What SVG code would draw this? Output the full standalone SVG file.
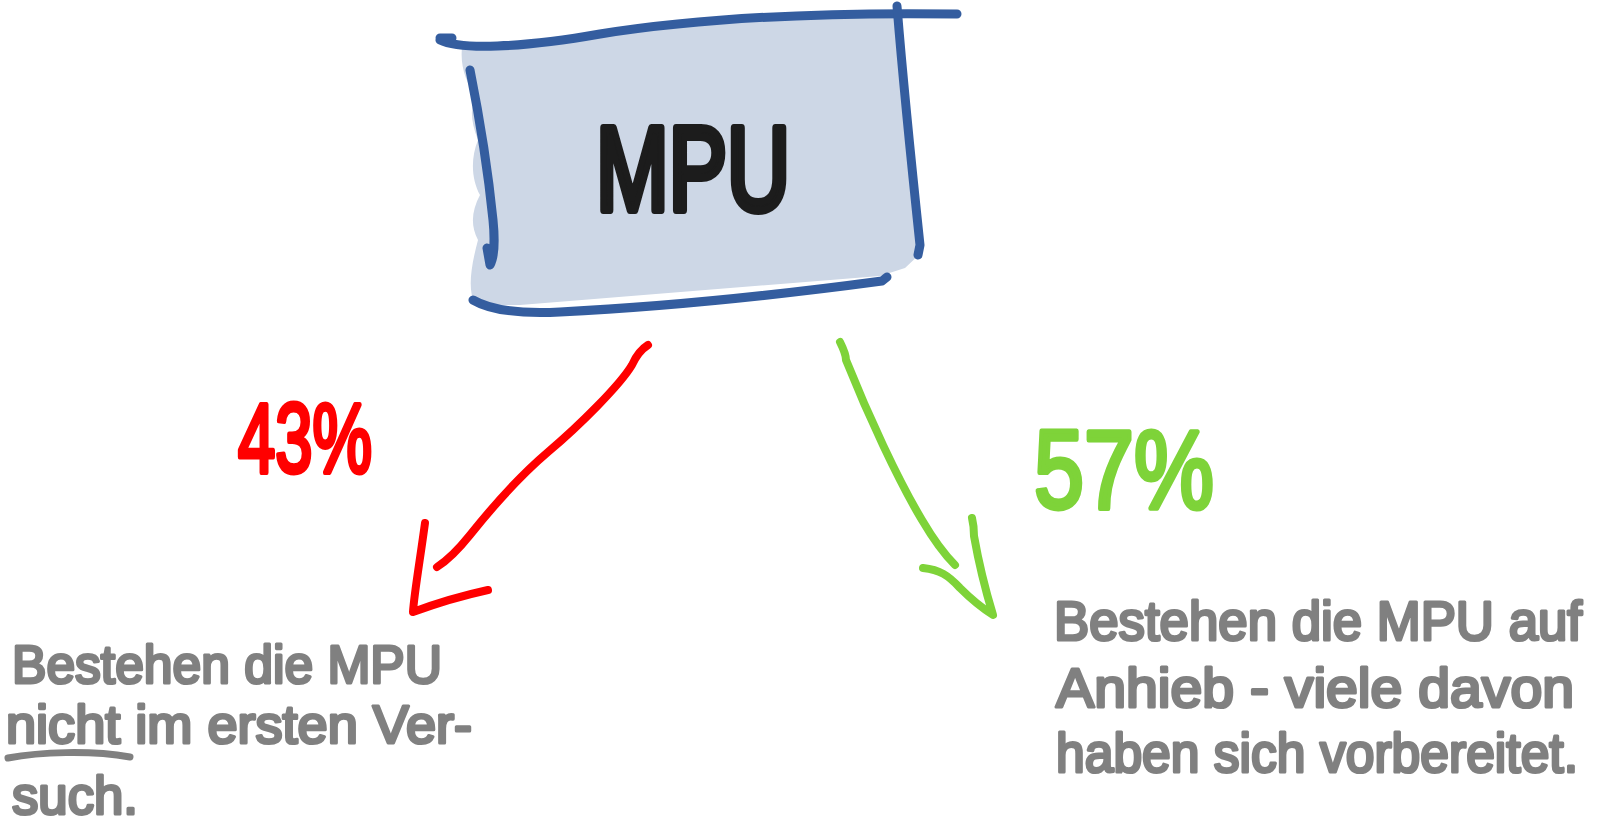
<svg xmlns="http://www.w3.org/2000/svg" width="1600" height="824" viewBox="0 0 1600 824">
<style>
.pen{fill:none;stroke-linecap:round;stroke-linejoin:round}
.box{stroke:#345d9f;stroke-width:9}
.red{stroke:#ff0000;stroke-width:8}
.grn{stroke:#7ed339;stroke-width:8}
.hand{font-family:"Liberation Sans","DejaVu Sans",sans-serif;font-weight:normal;stroke-linejoin:round;stroke-linecap:round}
.note{fill:#808080;stroke:#808080;stroke-width:3.2}
</style>
<rect width="1600" height="824" fill="#ffffff"/>
<g id="mpu">
<path d="M462 48 C520 42 600 30 700 22 C800 16 860 14 897 10 L922 252 L905 268 L880 276 L520 305 L475 305 C468 290 470 270 478 240 C470 225 472 210 480 195 C472 180 470 160 478 140 C470 120 470 105 477 95 C466 85 460 65 462 48 Z" fill="#cdd7e6"/>
<path class="pen box" d="M440 38 L452 38 M440 40 C460 50 520 48 600 34 C700 18 820 12 957 14"/>
<path class="pen box" d="M897 6 C903 80 911 160 920 245 L918 255"/>
<path class="pen box" d="M470 70 C478 110 488 170 493 220 C495 240 494 258 490 265 L487 248"/>
<path class="pen box" d="M473 300 C490 310 520 314 560 312 C680 306 800 292 882 281 L887 277"/>
<text class="hand" x="596" y="210" font-size="118" fill="#1c1c1c" stroke="#1c1c1c" stroke-width="8" textLength="194" lengthAdjust="spacingAndGlyphs">MPU</text>
</g>
<g id="connectors">
<path class="pen red" d="M648 345 C640 350 636 356 632 365 C620 385 580 425 548 452 C515 480 490 510 470 535 C458 550 448 560 437 567"/>
<path class="pen red" d="M425 523 C420 560 414 595 413 612 C440 602 465 595 488 590"/>
<path class="pen grn" d="M840 342 C843 348 846 355 846 360 C868 415 898 480 922 520 C932 537 945 555 955 565"/>
<path class="pen grn" d="M972 518 C974 526 974 532 974 536 C980 570 986 592 993 615 C982 608 970 598 960 588 C948 575 940 570 923 568"/>
</g>
<g id="pct43">
<text class="hand" x="238" y="472" font-size="98" fill="#ff0000" stroke="#ff0000" stroke-width="5" textLength="134" lengthAdjust="spacingAndGlyphs">43%</text>
</g>
<g id="pct57">
<text class="hand" x="1034" y="508" font-size="112" fill="#7ed339" stroke="#7ed339" stroke-width="5" textLength="180" lengthAdjust="spacingAndGlyphs">57%</text>
</g>
<g id="note-left">
<text class="hand note" x="12" y="683" font-size="54" textLength="430" lengthAdjust="spacingAndGlyphs">Bestehen die MPU</text>
<text class="hand note" x="6" y="743" font-size="54" textLength="466" lengthAdjust="spacingAndGlyphs">nicht im ersten Ver-</text>
<text class="hand note" x="12" y="814" font-size="54" textLength="126" lengthAdjust="spacingAndGlyphs">such.</text>
<path class="pen" stroke="#808080" stroke-width="7" d="M8 758 C40 752 90 750 130 757"/>
</g>
<g id="note-right">
<text class="hand note" x="1054" y="640" font-size="56" textLength="528" lengthAdjust="spacingAndGlyphs">Bestehen die MPU auf</text>
<text class="hand note" x="1056" y="707" font-size="56" textLength="518" lengthAdjust="spacingAndGlyphs">Anhieb - viele davon</text>
<text class="hand note" x="1056" y="772" font-size="56" textLength="522" lengthAdjust="spacingAndGlyphs">haben sich vorbereitet.</text>
</g>
</svg>
